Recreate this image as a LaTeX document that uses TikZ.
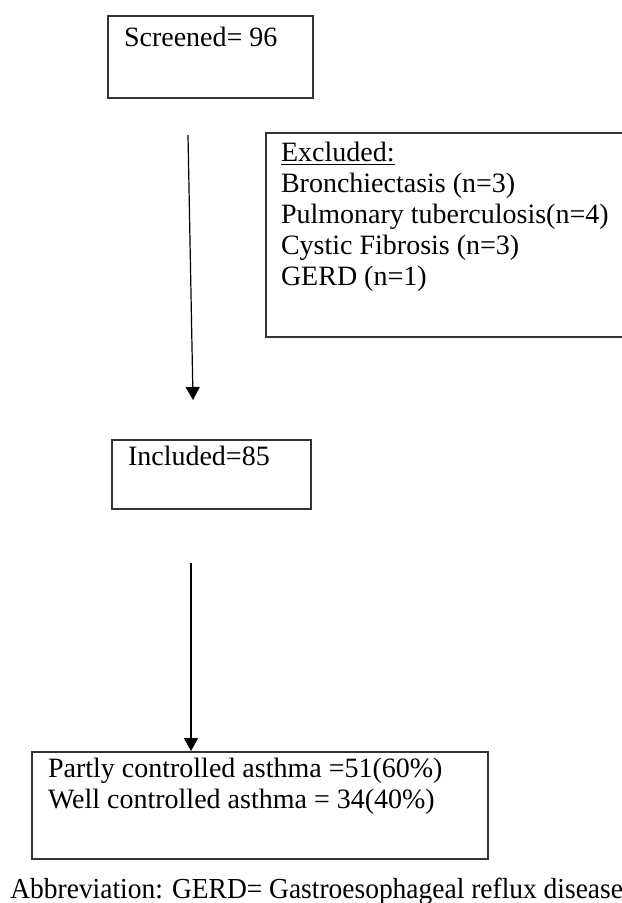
\documentclass[tikz,border=0pt]{standalone}
\usepackage{fontspec}
\setmainfont{Liberation Serif}
\usepackage{tikz}
\usetikzlibrary{arrows.meta,calc,positioning}

\newcommand{\boxlines}[3]{\parbox[t][#2][t]{#1}{#3}}

\begin{document}
\begin{tikzpicture}[x=0.5pt,y=-0.5pt,
  flowbox/.style={draw=black!80, line width=1pt, inner xsep=8pt, fill=white, font=\fontsize{14}{15.5}\selectfont},
  flowarrow/.style={-{Triangle[width=7pt,length=6.5pt]}, line width=0.6pt}]

\useasboundingbox (0,0) rectangle (621,903);

\coordinate(O1) at (107,15);
\node[below right=0cm of O1,flowbox,inner ysep=5.5pt](screened) {\boxlines{86.5pt}{30pt}{Screened= 96}};

\coordinate(O1) at (265,132);
\node[below right=0cm of O1,flowbox,inner xsep=7.5pt,inner ysep=4.5pt](excluded) {\boxlines{166pt}{93pt}{\underline{Excluded:}\\
Bronchiectasis (n=3)\\
Pulmonary tuberculosis(n=4)\\
Cystic Fibrosis (n=3)\\
GERD (n=1)}};

\coordinate(O1) at (111,439);
\node[below right=0cm of O1,flowbox,inner ysep=3pt](included) {\boxlines{83.5pt}{28.5pt}{Included=85}};

\coordinate(O1) at (31,751);
\node[below right=0cm of O1,flowbox,inner ysep=3pt](outcome) {\boxlines{212pt}{47.5pt}{Partly controlled asthma =51(60\%)\\
Well controlled asthma = 34(40\%)}};

\node[anchor=base west,inner sep=0pt,xscale=0.947,font=\fontsize{14.5}{16}\selectfont](abbrev) at (10,898) {Abbreviation: GERD= Gastroesophageal reflux disease};

\coordinate(a1s) at (188,135);
\coordinate(a1e) at (193,400);
\coordinate(a2s) at (191,563);

\draw[flowarrow] (a1s) -- (a1e);
\draw[flowarrow] (a2s) -- (a2s |- outcome.north);
\end{tikzpicture}
\end{document}
